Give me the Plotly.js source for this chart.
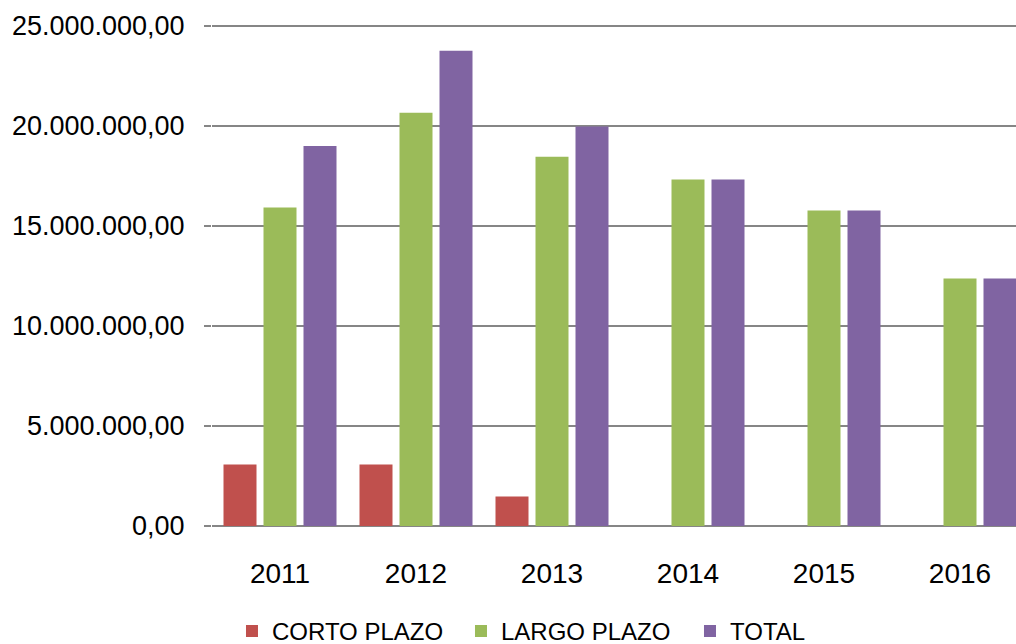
<!DOCTYPE html>
<html>
<head>
<meta charset="utf-8">
<script src="https://cdn.plot.ly/plotly-3.0.1.min.js"></script>
<style>
html, body { margin: 0; padding: 0; overflow: hidden; background: #fff; }
#chart { width: 1028px; height: 644px; }
</style>
</head>
<body>
<div id="chart"></div>
<script>
const years = ['2011', '2012', '2013', '2014', '2015', '2016'];
const cortoPlazo = [3070000, 3070000, 1470000, 0, 0, 0];
const largoPlazo = [15920000, 20660000, 18460000, 17330000, 15780000, 12380000];
const total = [19000000, 23760000, 19970000, 17330000, 15780000, 12380000];
const seriesNames = ['CORTO PLAZO', 'LARGO PLAZO', 'TOTAL'];
const tickVals = [0, 5000000, 10000000, 15000000, 20000000, 25000000];
const tickText = ['0,00', '5.000.000,00', '10.000.000,00', '15.000.000,00', '20.000.000,00', '25.000.000,00'];

const colors = ['#C0504D', '#9BBB59', '#8064A2'];
const seriesValues = [cortoPlazo, largoPlazo, total];

const traces = seriesValues.map((vals, i) => ({
  type: 'bar',
  x: years,
  y: vals,
  name: seriesNames[i],
  marker: { color: colors[i] },
  hoverinfo: 'none'
}));

const font = { family: 'Liberation Sans, Arial, sans-serif', size: 27, color: '#000' };

const layout = {
  width: 1028,
  height: 644,
  margin: { l: 212, r: 0, t: 24, b: 118, autoexpand: false },
  paper_bgcolor: '#fff',
  plot_bgcolor: '#fff',
  barmode: 'group',
  bargap: 0.1176,
  bargroupgap: 0.175,
  font: font,
  showlegend: true,
  legend: {
    orientation: 'h',
    x: 0.0245,
    xanchor: 'left',
    y: -0.165,
    yanchor: 'top',
    font: { family: 'Liberation Sans, Arial, sans-serif', size: 24, color: '#000' },
    entrywidth: 184,
    entrywidthmode: 'pixels',
    traceorder: 'normal'
  },
  xaxis: {
    type: 'category',
    showgrid: false,
    showline: false,
    zeroline: false,
    ticks: '',
    ticklabelstandoff: 28,
    tickfont: { family: 'Liberation Sans, Arial, sans-serif', size: 28, color: '#000' }
  },
  yaxis: {
    range: [0, 25100000],
    tickvals: tickVals,
    ticktext: tickText,
    showgrid: true,
    gridcolor: '#868686',
    gridwidth: 1.5,
    zeroline: true,
    zerolinecolor: '#868686',
    zerolinewidth: 1.5,
    showline: false,
    ticks: 'outside',
    ticklen: 7,
    tickwidth: 1.5,
    tickcolor: '#868686',
    ticklabelstandoff: 14,
    tickfont: font
  }
};

Plotly.newPlot('chart', traces, layout, { staticPlot: true, displayModeBar: false });
</script>
</body>
</html>
